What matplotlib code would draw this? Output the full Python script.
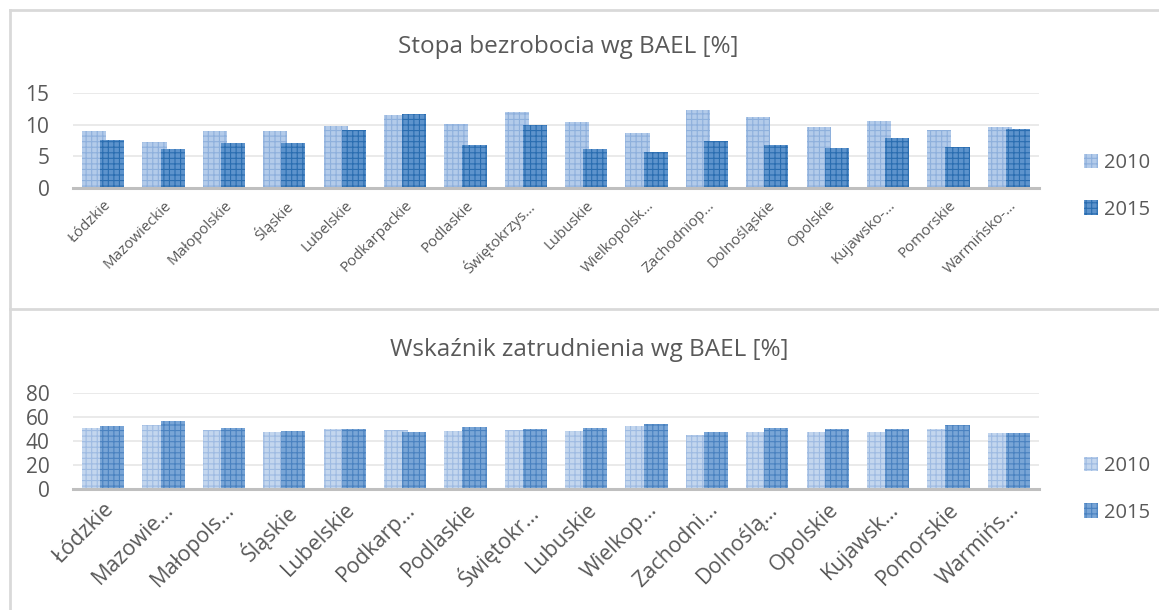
import matplotlib
matplotlib.use("Agg")
import matplotlib.pyplot as plt
import numpy as np

plt.rcParams['font.family'] = ['Open Sans', 'DejaVu Sans']
plt.rcParams['hatch.linewidth'] = 0.8

# województwa
regiony = ["Łódzkie", "Mazowieckie", "Małopolskie", "Śląskie", "Lubelskie",
           "Podkarpackie", "Podlaskie", "Świętokrzyskie", "Lubuskie",
           "Wielkopolskie", "Zachodniopomorskie", "Dolnośląskie", "Opolskie",
           "Kujawsko-pomorskie", "Pomorskie", "Warmińsko-mazurskie"]

# etykiety osi (tak jak w Excelu, obcięte)
etyk_gora = ["Łódzkie", "Mazowieckie", "Małopolskie", "Śląskie", "Lubelskie",
             "Podkarpackie", "Podlaskie", "Świętokrzys…", "Lubuskie",
             "Wielkopolsk…", "Zachodniop…", "Dolnośląskie", "Opolskie",
             "Kujawsko-…", "Pomorskie", "Warmińsko-…"]
etyk_dol = ["Łódzkie", "Mazowie…", "Małopols…", "Śląskie", "Lubelskie",
            "Podkarp…", "Podlaskie", "Świętokr…", "Lubuskie", "Wielkop…",
            "Zachodni…", "Dolnoślą…", "Opolskie", "Kujawsk…", "Pomorskie",
            "Warmińs…"]

# stopa bezrobocia
bezrob_2010 = [9.0, 7.3, 9.0, 9.0, 9.8, 11.5, 10.1, 11.9, 10.4, 8.6, 12.3, 11.2, 9.6, 10.5, 9.2, 9.6]
bezrob_2015 = [7.5, 6.2, 7.1, 7.1, 9.2, 11.6, 6.8, 9.9, 6.1, 5.7, 7.4, 6.8, 6.3, 7.9, 6.5, 9.3]

# wskaźnik zatrudnienia
zatr_2010 = [50.5, 53.3, 49.1, 47.2, 49.7, 49.1, 48.3, 49.1, 48.5, 52.2, 45.0, 47.5, 47.5, 47.5, 49.7, 46.9]
zatr_2015 = [52.2, 56.6, 50.8, 48.5, 49.7, 47.5, 51.3, 49.7, 50.5, 53.8, 47.5, 50.8, 49.9, 49.7, 53.3, 46.6]

lata = ["2010", "2015"]
szary = "#595959"

W, H = 1159, 610
fig = plt.figure(figsize=(W / 100, H / 100), dpi=100)


def px(x0, y0, x1, y1):
    # piksele -> wspolrzedne figury
    return [x0 / W, 1 - y1 / H, (x1 - x0) / W, (y1 - y0) / H]


def wykres(ax, v10, v15, etyk, ymax, krok, fs_x, kolory):
    x = np.arange(len(regiony))
    ax.bar(x - 0.15, v10, width=0.40, facecolor=kolory[0], edgecolor=kolory[1],
           hatch="+++", linewidth=0, label=lata[0], zorder=2)
    ax.bar(x + 0.15, v15, width=0.40, facecolor=kolory[2], edgecolor=kolory[3],
           hatch="+++", linewidth=0, label=lata[1], zorder=3)
    ax.set_xlim(-0.5, len(regiony) - 0.5)
    ax.set_ylim(0, ymax)
    ax.set_yticks(np.arange(0, ymax + 1, krok))
    ax.grid(axis="y", color="#e8e8e8", linewidth=1.3, zorder=0)
    for s in ["top", "right", "left"]:
        ax.spines[s].set_visible(False)
    ax.spines["bottom"].set_color("#bfbfbf")
    ax.spines["bottom"].set_linewidth(2.2)
    ax.spines["bottom"].set_zorder(4)
    ax.tick_params(axis="both", length=0, colors=szary)
    ax.tick_params(axis="y", labelsize=15, pad=17)
    ax.set_xticks(x)
    ax.set_xticklabels(etyk, rotation=45, ha="right", rotation_mode="anchor",
                       fontsize=fs_x, color=szary)
    ax.tick_params(axis="x", pad=7)


def legenda(ax, yc):
    fig.legend(*ax.get_legend_handles_labels(), loc="center left",
               bbox_to_anchor=(1066 / W, 1 - yc / H), frameon=False,
               fontsize=14.5, labelcolor=szary, handlelength=0.7,
               handleheight=0.7, labelspacing=1.3, handletextpad=0.3)


ax1 = fig.add_axes(px(73, 92.7, 1039, 188.3))
wykres(ax1, bezrob_2010, bezrob_2015, etyk_gora, 15, 5, 10.8,
       ["#b3cbea", "#8eb0dc", "#5d93cc", "#2a6db0"])
fig.text(568 / W, 1 - 47 / H, "Stopa bezrobocia wg BAEL [%]", ha="center",
         va="center", fontsize=17.5, color=szary)
legenda(ax1, 186.5)

ax2 = fig.add_axes(px(73, 392.7, 1039, 489.3))
wykres(ax2, zatr_2010, zatr_2015, etyk_dol, 80, 20, 15.5,
       ["#c3d6ee", "#9ebbe2", "#79a5d6", "#4a82c0"])
fig.text(589 / W, 1 - 350 / H, "Wskaźnik zatrudnienia wg BAEL [%]", ha="center",
         va="center", fontsize=17.5, color=szary)
legenda(ax2, 489.5)

# ramki wykresow
ramka = dict(color="#d9d9d9", linewidth=2, transform=fig.transFigure)
fig.add_artist(plt.Line2D([10 / W, 10 / W], [0, 1 - 10 / H], **ramka))
fig.add_artist(plt.Line2D([10 / W, 1], [1 - 10 / H, 1 - 10 / H], **ramka))
fig.add_artist(plt.Line2D([10 / W, 1], [1 - 309 / H, 1 - 309 / H], **ramka))

fig.savefig("out.png", dpi=100)
